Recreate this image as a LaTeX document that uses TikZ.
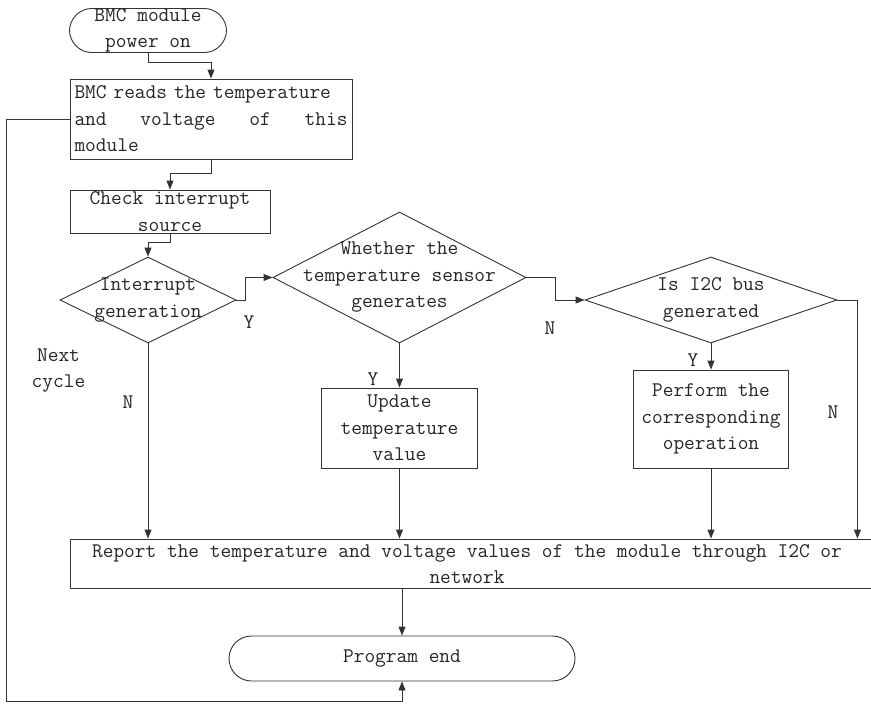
\documentclass[tikz,border=0pt]{standalone}
\usepackage{fontspec}
\usetikzlibrary{shapes.geometric,arrows.meta}

\begin{document}
\begin{tikzpicture}[x=1pt,y=-1pt,
  every node/.style={font=\ttfamily\fontsize{20.8}{26.5}\selectfont, text=black!85},
  flowbox/.style={draw=black!80, line width=0.9pt, rectangle, inner sep=0pt},
  terminal/.style={draw=black!80, line width=0.9pt, rectangle, rounded corners=22.5pt, inner sep=0pt},
  decision/.style={draw=black!80, line width=0.9pt, diamond, inner sep=0pt},
  txt/.style={align=center, inner sep=0pt},
  flow/.style={draw=black!80, line width=0.9pt},
  arr/.style={flow, -{Triangle[length=9pt,width=7pt]}}
]
\useasboundingbox (0,0) rectangle (871,704);

% process steps
\node[terminal, minimum width=157pt, minimum height=44pt, align=center] (start) at (148,30.5) {BMC module\\power on};
\node[flowbox, minimum width=282pt, minimum height=80pt, text width=273pt, align=left] (read) at (211,119)
  {BMC reads the temperature\\\makebox[273pt][l]{and\hfill voltage\hfill of\hfill this}\\module};
\node[flowbox, minimum width=200pt, minimum height=43pt, align=center] (check) at (170,211.5) {Check interrupt\\source};

% decisions
\node[decision, minimum width=176pt, minimum height=86pt] (intr) at (148,300) {};
\node[txt] (intrtxt) at (intr) {Interrupt\\generation};
\node[decision, minimum width=253pt, minimum height=131pt] (sens) at (399.5,277.5) {};
\node[txt] (senstxt) at (sens) {Whether the\\temperature sensor\\generates};
\node[decision, minimum width=252pt, minimum height=86pt] (bus) at (711,300) {};
\node[txt] (bustxt) at (bus) {Is I2C bus\\generated};

% actions
\node[flowbox, minimum width=156pt, minimum height=80pt, align=center] (upd) at (399.5,428) {Update\\temperature\\value};
\node[flowbox, minimum width=155pt, minimum height=98pt, align=center] (perf) at (711,419) {Perform the\\corresponding\\operation};
\node[flowbox, minimum width=810pt, minimum height=49pt] (report) at (475,563.5) {};
\node[txt] (reporttxt) at (467,564) {Report the temperature and voltage values of the module through I2C or\\network};
\node[terminal, minimum width=346pt, minimum height=45pt] (pend) at (402,658.5) {Program end};

% branch labels
\node[txt] (y1) at (249,322) {Y};
\node[txt] (n1) at (128,402) {N};
\node[txt] (y2) at (373,379) {Y};
\node[txt] (n2) at (550,328) {N};
\node[txt] (y3) at (693,360) {Y};
\node[txt] (n3) at (833,412) {N};
\node[txt] (next) at (58.5,370.5) {Next\\cycle};

% connectors
\draw[arr] (start.south) -- ++(0,9) -| (read.north);
\draw[arr] (read.south) -- ++(0,14) -| (check.north);
\draw[arr] (check.south) -- ++(0,9) -| (intr.north);
\draw[arr] (intr.east) -- ++(9,0) |- (sens.west);
\draw[arr] (sens.east) -- ++(29,0) |- (bus.west);
\draw[arr] (bus.east) -- ++(20,0) coordinate (busturn) -- (busturn |- report.north);
\draw[arr] (intr.south) -- (intr.south |- report.north);
\draw[arr] (sens.south) -- (upd.north);
\draw[arr] (upd.south) -- (upd.south |- report.north);
\draw[arr] (bus.south) -- (perf.north);
\draw[arr] (perf.south) -- (perf.south |- report.north);
\draw[arr] (pend.north |- report.south) -- (pend.north);
\coordinate (loopcorner) at (6,701);
\draw[arr] (read.west) -| (loopcorner) -| (pend.south);
\end{tikzpicture}
\end{document}
